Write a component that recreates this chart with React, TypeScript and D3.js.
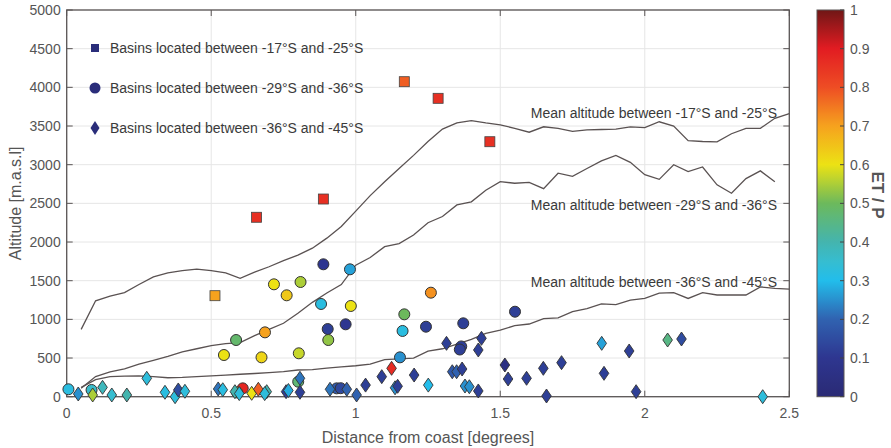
import React from "react";
import * as d3 from "d3";

// ---------- DATA ----------
const lineDist = [0.05,0.1,0.15,0.2,0.25,0.3,0.35,0.4,0.45,0.5,0.55,0.6,0.65,0.7,0.75,0.8,0.85,0.9,0.95,1.0,1.05,1.1,1.15,1.2,1.25,1.3,1.35,1.4,1.45,1.5,1.55,1.6,1.65,1.7,1.75,1.8,1.85,1.9,1.95,2.0,2.05,2.1,2.15,2.2,2.25,2.3,2.35,2.4,2.45,2.5];
const meanAlt17_25 = [870,1240,1300,1345,1450,1550,1600,1630,1650,1630,1600,1530,1610,1680,1760,1830,1920,2050,2200,2400,2600,2780,2950,3120,3300,3460,3540,3570,3540,3515,3470,3420,3490,3470,3430,3450,3455,3460,3490,3480,3555,3500,3310,3300,3295,3400,3470,3470,3600,3660];
const meanAlt29_36 = [110,260,320,360,420,470,520,580,620,660,685,700,790,870,950,1080,1220,1340,1450,1700,1800,1940,1980,2090,2250,2330,2480,2520,2670,2780,2760,2770,2690,2890,2850,2950,3050,3120,3030,2870,2810,3000,2910,2970,2740,2630,2820,2920,2780,null];
const meanAlt36_45 = [120,220,260,265,270,260,245,250,260,268,280,290,300,310,323,345,350,370,385,400,420,480,490,500,590,620,680,740,820,860,920,940,1010,1020,1100,1140,1200,1190,1250,1270,1340,1345,1270,1345,1315,1315,1315,1420,1400,1390];

const lineLabels = ["Mean altitude between -17°S and -25°S","Mean altitude between -29°S and -36°S","Mean altitude between -36°S and -45°S"];
const legendLabels = ["Basins located between -17°S and -25°S","Basins located between -29°S and -36°S","Basins located between -36°S and -45°S"];

// squares: basins -17 to -25
const sqX = [0.513,0.657,0.888,1.168,1.285,1.464];
const sqY = [1306,2320,2556,4073,3858,3297];
const sqC = [0.70,0.86,0.86,0.78,0.86,0.86];

// circles: basins -29 to -36
const ciX = [0.006,0.086,0.586,0.544,0.717,0.761,0.809,0.686,0.674,0.803,0.888,0.98,0.88,0.983,0.903,0.965,0.905,1.168,1.162,1.26,1.243,1.153,1.551,1.372,1.365,1.36,0.609,0.934,0.948,0.801,0.59];
const ciY = [96,87,733,539,1453,1311,1483,832,509,561,1712,1647,1199,1173,875,936,733,1065,850,1345,905,509,1099,949,650,610,108,108,110,194,55];
const ciC = [0.32,0.36,0.48,0.60,0.60,0.64,0.55,0.70,0.62,0.57,0.10,0.27,0.32,0.60,0.12,0.10,0.53,0.50,0.32,0.72,0.12,0.25,0.12,0.12,0.12,0.12,0.88,0.18,0.14,0.47,0.58];

// diamonds: basins -36 to -45
const diX = [0.04,0.09,0.124,0.156,0.208,0.277,0.34,0.375,0.386,0.409,0.524,0.54,0.582,0.597,0.64,0.663,0.692,0.685,0.759,0.767,0.807,0.807,0.911,0.969,1.003,1.034,1.09,1.124,1.136,1.145,1.202,1.251,1.314,1.334,1.349,1.368,1.378,1.393,1.424,1.424,1.435,1.516,1.527,1.591,1.649,1.66,1.712,1.851,1.859,1.946,1.97,2.079,2.127,2.408];
const diY = [35,22,121,22,22,238,57,0,87,70,100,90,65,40,44,96,65,40,65,80,238,57,96,96,22,150,259,367,115,135,280,150,690,323,323,358,138,129,74,604,755,410,229,238,367,9,440,690,302,591,65,733,746,0];
const diC = [0.25,0.55,0.38,0.35,0.40,0.33,0.32,0.33,0.15,0.33,0.22,0.32,0.40,0.33,0.60,0.78,0.40,0.33,0.12,0.28,0.22,0.12,0.22,0.20,0.20,0.12,0.12,0.87,0.25,0.12,0.12,0.30,0.12,0.18,0.20,0.12,0.25,0.25,0.12,0.12,0.12,0.05,0.12,0.12,0.12,0.12,0.12,0.27,0.12,0.12,0.12,0.45,0.15,0.33];

const xTicks = [0,0.5,1,1.5,2,2.5];
const xTickLabels = ["0","0.5","1","1.5","2","2.5"];
const yTicks = [0,500,1000,1500,2000,2500,3000,3500,4000,4500,5000];
const cTicks = [0,0.1,0.2,0.3,0.4,0.5,0.6,0.7,0.8,0.9,1];
const cTickLabels = ["0","0.1","0.2","0.3","0.4","0.5","0.6","0.7","0.8","0.9","1"];

const cmapStops = [0,0.1,0.2,0.3,0.35,0.4,0.5,0.6,0.7,0.8,0.9,1];
const cmapColors = ["#2a2a74","#2e3690","#3062b0","#22bdeb","#36bdd0","#44b4ae","#6cb95c","#ece214","#f6a21e","#ee4d24","#e21c22","#701616"];

// ---------- LAYOUT ----------
const W = 891, H = 448;
const L = 66.7, R = 789.3, T = 10, B = 396.7;
const CBX = 817, CBW = 27;
const FONT = "'Liberation Sans', Arial, sans-serif";

export default function App() {
  const x = d3.scaleLinear().domain([0, 2.5]).range([L, R]);
  const y = d3.scaleLinear().domain([0, 5000]).range([B, T]);
  const cy = d3.scaleLinear().domain([0, 1]).range([B, T]);
  const cmap = d3.scaleLinear<string>().domain(cmapStops).range(cmapColors).interpolate(d3.interpolateRgb);

  const line = d3.line<[number, number | null]>()
    .defined(d => d[1] !== null)
    .x(d => x(d[0]))
    .y(d => y(d[1] as number));

  const series = [meanAlt17_25, meanAlt29_36, meanAlt36_45];
  const labelY = [118, 210, 287];

  const diamond = (cx: number, cyy: number, hw: number, hh: number) =>
    `M${cx},${cyy - hh}L${cx + hw},${cyy}L${cx},${cyy + hh}L${cx - hw},${cyy}Z`;

  const gradSteps = d3.range(0, 101).map(i => i / 100);

  return (
    <div style={{ position: "absolute", left: 0, top: 0 }}>
      <svg width={W} height={H} style={{ display: "block", background: "#fff" }} fontFamily={FONT}>
        <defs>
          <linearGradient id="cbar" x1="0" y1="1" x2="0" y2="0">
            {gradSteps.map(t => (
              <stop key={t} offset={t} stopColor={cmap(t)} />
            ))}
          </linearGradient>
        </defs>
        {/* grid */}
        {yTicks.map(t => (
          <line key={"gy" + t} x1={L} x2={R} y1={y(t)} y2={y(t)} stroke="#e6e6e6" strokeWidth={1} />
        ))}
        {xTicks.map(t => (
          <line key={"gx" + t} x1={x(t)} x2={x(t)} y1={T} y2={B} stroke="#e6e6e6" strokeWidth={1} />
        ))}
        {/* box */}
        <rect x={L} y={T} width={R - L} height={B - T} fill="none" stroke="#5a5555" strokeWidth={1.3} />
        {/* ticks */}
        {xTicks.map(t => (
          <g key={"xt" + t}>
            <line x1={x(t)} x2={x(t)} y1={B} y2={B - 6} stroke="#5a5555" />
            <line x1={x(t)} x2={x(t)} y1={T} y2={T + 6} stroke="#5a5555" />
          </g>
        ))}
        {yTicks.map(t => (
          <g key={"yt" + t}>
            <line x1={L} x2={L + 6} y1={y(t)} y2={y(t)} stroke="#5a5555" />
            <line x1={R} x2={R - 6} y1={y(t)} y2={y(t)} stroke="#5a5555" />
          </g>
        ))}
        {/* tick labels */}
        {xTicks.map((t, i) => (
          <text key={"xl" + t} x={x(t)} y={B + 21} textAnchor="middle" fontSize={14} fill="#555">{xTickLabels[i]}</text>
        ))}
        {yTicks.map(t => (
          <text key={"yl" + t} x={L - 6} y={y(t) + 5} textAnchor="end" fontSize={14} fill="#555">{t}</text>
        ))}
        <text x={(L + R) / 2} y={443} textAnchor="middle" fontSize={16} fill="#555">Distance from coast [degrees]</text>
        <text transform={`translate(21,${(T + B) / 2}) rotate(-90)`} textAnchor="middle" fontSize={16} fill="#555">Altitude [m.a.s.l]</text>

        {/* mean lines */}
        {series.map((s, i) => (
          <path key={"ln" + i} d={line(lineDist.map((d, j) => [d, s[j]]))!} fill="none" stroke="#5a5252" strokeWidth={1.3} />
        ))}
        {lineLabels.map((lab, i) => (
          <text key={"ll" + i} x={777} y={labelY[i]} textAnchor="end" fontSize={14} fill="#3a3a3a">{lab}</text>
        ))}

        {/* markers */}
        {sqX.map((v, i) => (
          <rect key={"sq" + i} x={x(v) - 5} y={y(sqY[i]) - 5} width={10} height={10} fill={cmap(sqC[i])} stroke="#444" strokeWidth={0.8} />
        ))}
        {ciX.map((v, i) => (
          <circle key={"ci" + i} cx={x(v)} cy={y(ciY[i])} r={5.5} fill={cmap(ciC[i])} stroke="#333" strokeWidth={1} />
        ))}
        {diX.map((v, i) => (
          <path key={"di" + i} d={diamond(x(v), y(diY[i]), 4.8, 7)} fill={cmap(diC[i])} stroke="#333" strokeWidth={0.9} />
        ))}

        {/* legend */}
        <rect x={91} y={44} width={8} height={8} fill="#2a2d7a" />
        <circle cx={95} cy={88} r={5.5} fill="#2a2d7a" />
        <path d={diamond(95, 128, 4.5, 7)} fill="#2a2d7a" />
        {legendLabels.map((lab, i) => (
          <text key={"lg" + i} x={110} y={[53, 93, 133][i]} fontSize={14} fill="#3a3a3a">{lab}</text>
        ))}

        {/* colorbar */}
        <rect x={CBX} y={T} width={CBW} height={B - T} fill="url(#cbar)" stroke="#5a5555" strokeWidth={1} />
        {cTicks.map((t, i) => (
          <g key={"ct" + t}>
            <line x1={CBX + CBW - 4} x2={CBX + CBW} y1={cy(t)} y2={cy(t)} stroke="#444" />
            <text x={CBX + CBW + 6} y={cy(t) + 5} fontSize={14} fill="#555">{cTickLabels[i]}</text>
          </g>
        ))}
        <text transform={`translate(872,195) rotate(90)`} textAnchor="middle" fontSize={17} fontWeight="bold" fill="#555">ET / P</text>
      </svg>
    </div>
  );
}
